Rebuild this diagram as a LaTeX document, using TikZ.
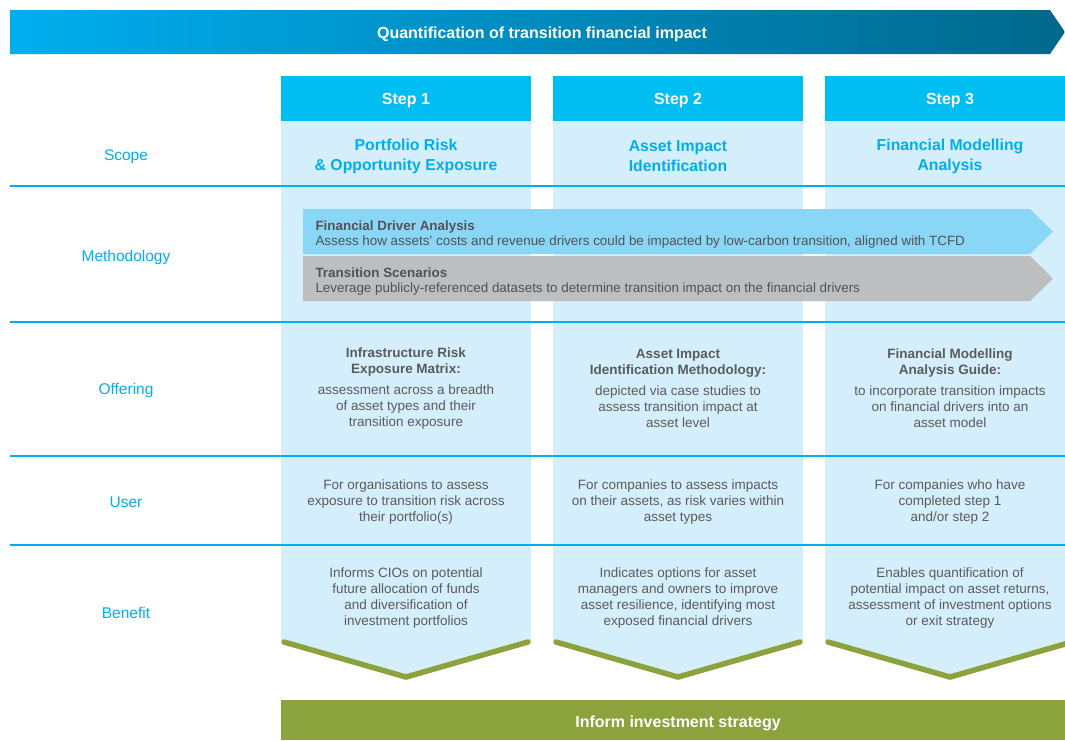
\documentclass[tikz,border=0pt]{standalone}
\usepackage{fontspec}
\setmainfont{Liberation Sans}
\definecolor{headcyan}{HTML}{00BDF2}
\definecolor{ruleblue}{HTML}{00AEEF}
\definecolor{colfill}{HTML}{D5EEFB}
\definecolor{barblue}{HTML}{8AD6F6}
\definecolor{bargray}{HTML}{BDBEC0}
\definecolor{txtgray}{HTML}{5A5B5D}
\definecolor{leaf}{HTML}{8BA23D}
\definecolor{bannerleft}{HTML}{00AEEF}
\definecolor{bannerright}{HTML}{00688C}

\begin{document}
\begin{tikzpicture}[x=1pt, y=-1pt,
                    row label/.style={text=ruleblue,font=\fontsize{15.5}{18}\selectfont},
                    head node/.style={fill=headcyan,text=white,inner sep=0pt,minimum width=250pt,
                                      minimum height=45pt,font=\fontsize{16}{18}\selectfont\bfseries},
                    scope text/.style={text=ruleblue,align=center,font=\fontsize{15.8}{20}\selectfont\bfseries},
                    body text/.style={text=txtgray,align=center,font=\fontsize{13.5}{16}\selectfont},
                    bar text/.style={text=txtgray!90!black,align=left,anchor=west,font=\fontsize{13.4}{15}\selectfont}]

  \useasboundingbox (0,0) rectangle (1065,740);
  \clip (0,0) rectangle (1065,740);

  % banner
  \shade[left color=bannerleft,right color=bannerright]
    (10,10) -- (1050,10) -- (1065,32) -- (1050,54) -- (10,54) -- cycle;
  \node[text=white,font=\fontsize{16}{18}\selectfont\bfseries] (banner) at (542,34.5)
    {Quantification of transition financial impact};

  % columns with chevrons
  \foreach \cx/\n in {406/1,678/2,950/3}{
    \fill[colfill] (\cx-125,121) -- (\cx+125,121) -- (\cx+125,642) -- (\cx,680)
                   -- (\cx-125,642) -- cycle;
    \draw[leaf,line width=5.5pt,line cap=round,line join=round]
      (\cx-122,642) -- (\cx,677) -- (\cx+122,642);
    \node[head node] (step\n) at (\cx,98.5) {};
    \node[text=white,font=\fontsize{16}{18}\selectfont\bfseries] (steplabel\n) at (\cx,100.5) {Step \n};
  }

  % row rules
  \foreach \ry in {186,322,456,545}
    \draw[ruleblue,line width=2pt] (10,\ry) -- (1065,\ry);

  % row labels
  \node[row label] (scope)  at (126,157) {Scope};
  \node[row label] (method) at (126,257) {Methodology};
  \node[row label] (offer)  at (126,390) {Offering};
  \node[row label] (user)   at (126,502) {User};
  \node[row label] (gain)   at (126,613) {Benefit};

  % methodology bars
  \fill[barblue] (303,209) -- (1030,209) -- (1053,231.5) -- (1030,254) -- (303,254) -- cycle;
  \fill[bargray] (303,256) -- (1030,256) -- (1053,278.5) -- (1030,301) -- (303,301) -- cycle;
  \node[bar text] (driver) at (312,234.5)
    {\textbf{Financial Driver Analysis}\\Assess how assets’ costs and revenue drivers could be impacted by low-carbon transition, aligned with TCFD};
  \node[bar text] (scen) at (312,281.5)
    {\textbf{Transition Scenarios}\\Leverage publicly-referenced datasets to determine transition impact on the financial drivers};

  % scope
  \node[scope text] (scope1) at (406,156) {Portfolio Risk\\\& Opportunity Exposure};
  \node[scope text] (scope2) at (678,156) {Asset Impact\\Identification};
  \node[scope text] (scope3) at (950,156) {Financial Modelling\\Analysis};

  % offering
  \node[body text] (offer1) at (406,388)
    {{\bfseries Infrastructure Risk}\\{\bfseries Exposure Matrix:}\\[5pt]assessment across a breadth\\of asset types and their\\transition exposure};
  \node[body text] (offer2) at (678,388)
    {{\bfseries Asset Impact}\\{\bfseries Identification Methodology:}\\[5pt]depicted via case studies to\\assess transition impact at\\asset level};
  \node[body text] (offer3) at (950,388)
    {{\bfseries Financial Modelling}\\{\bfseries Analysis Guide:}\\[5pt]to incorporate transition impacts\\on financial drivers into an\\asset model};

  % user
  \node[body text] (user1) at (406,502)
    {For organisations to assess\\exposure to transition risk across\\their portfolio(s)};
  \node[body text] (user2) at (678,502)
    {For companies to assess impacts\\on their assets, as risk varies within\\asset types};
  \node[body text] (user3) at (950,502)
    {For companies who have\\completed step 1\\and/or step 2};

  % benefit
  \node[body text] (gain1) at (406,598)
    {Informs CIOs on potential\\future allocation of funds\\and diversification of\\investment portfolios};
  \node[body text] (gain2) at (678,598)
    {Indicates options for asset\\managers and owners to improve\\asset resilience, identifying most\\exposed financial drivers};
  \node[body text] (gain3) at (950,598)
    {Enables quantification of\\potential impact on asset returns,\\assessment of investment options\\or exit strategy};

  % bottom bar
  \fill[leaf] (281,700) rectangle (1065,740);
  \node[text=white,font=\fontsize{16}{18}\selectfont\bfseries] (inform) at (678,723)
    {Inform investment strategy};

\end{tikzpicture}
\end{document}
